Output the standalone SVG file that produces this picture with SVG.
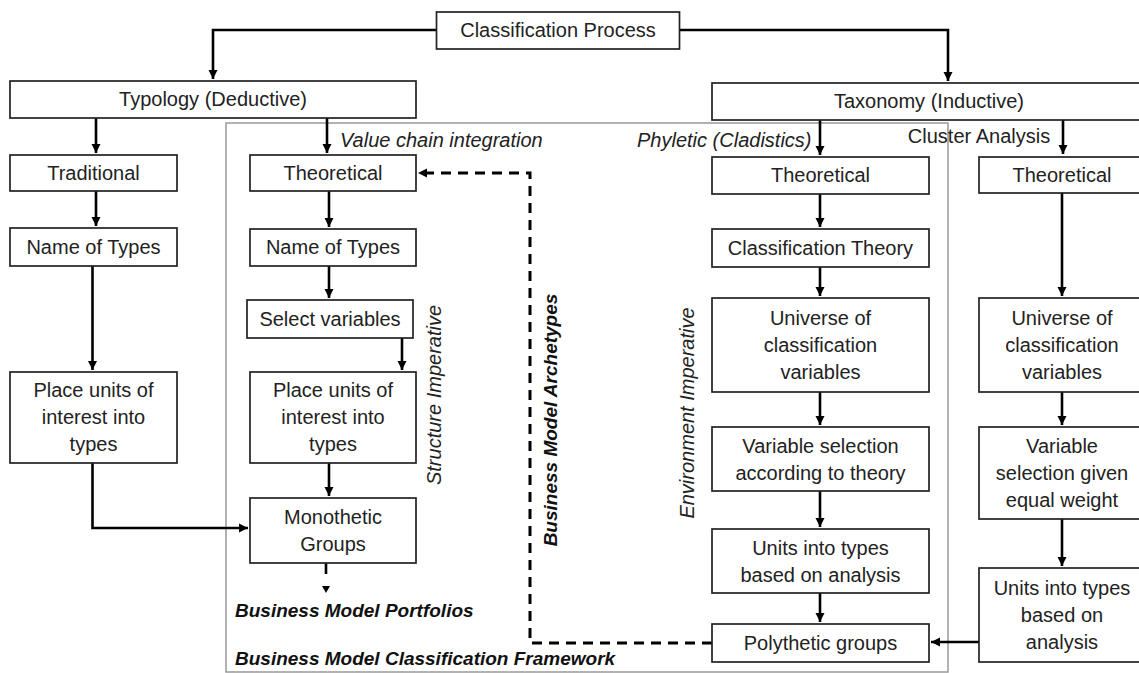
<svg xmlns="http://www.w3.org/2000/svg" width="1139" height="673" viewBox="0 0 1139 673">
<defs>
<marker id="ah" markerUnits="userSpaceOnUse" markerWidth="10" markerHeight="10" refX="9" refY="5" orient="auto">
<path d="M0,0.5 L9,5 L0,9.5 z" fill="#000"/>
</marker>
<style>
.b{fill:#fff;stroke:#222;stroke-width:1.7}
.t{font-family:"Liberation Sans",Arial,sans-serif;font-size:20px;fill:#222;text-anchor:middle}
.i{font-family:"Liberation Sans",Arial,sans-serif;font-size:20px;fill:#222;font-style:italic}
.bi{font-family:"Liberation Sans",Arial,sans-serif;font-size:19px;fill:#111;font-style:italic;font-weight:bold}
.c{fill:none;stroke:#000;stroke-width:2.6}
.d{fill:none;stroke:#000;stroke-width:3;stroke-dasharray:10 7}
</style>
</defs>
<rect x="0" y="0" width="1139" height="673" fill="#fff"/>

<g id="frame">
<rect x="226" y="123" width="722" height="549" fill="none" stroke="#999" stroke-width="1.5"/>
<text class="i" x="340" y="147">Value chain integration</text>
<text class="i" x="637" y="147">Phyletic (Cladistics)</text>
<text class="t" x="979" y="143" style="font-style:normal">Cluster Analysis</text>
<text class="i" transform="translate(441,395) rotate(-90)" text-anchor="middle">Structure Imperative</text>
<text class="bi" transform="translate(557,420) rotate(-90)" text-anchor="middle">Business Model Archetypes</text>
<text class="i" transform="translate(694,413) rotate(-90)" text-anchor="middle">Environment Imperative</text>
<text class="bi" x="235" y="617">Business Model Portfolios</text>
<text class="bi" x="235" y="665">Business Model Classification Framework</text>
</g>

<g id="connectors">
<polyline class="c" points="436,30 213,30 213,79" marker-end="url(#ah)"/>
<polyline class="c" points="680,30 948,30 948,81" marker-end="url(#ah)"/>
<line class="c" x1="96" y1="118" x2="96" y2="153" marker-end="url(#ah)"/>
<line class="c" x1="96" y1="191" x2="96" y2="226" marker-end="url(#ah)"/>
<line class="c" x1="92.5" y1="266" x2="92.5" y2="370" marker-end="url(#ah)"/>
<polyline class="c" points="92.5,463 92.5,528 248,528" marker-end="url(#ah)"/>
<line class="c" x1="327" y1="118" x2="327" y2="153" marker-end="url(#ah)"/>
<line class="c" x1="329" y1="191" x2="329" y2="227" marker-end="url(#ah)"/>
<line class="c" x1="329" y1="266" x2="329" y2="298" marker-end="url(#ah)"/>
<line class="c" x1="402" y1="338" x2="402" y2="370" marker-end="url(#ah)"/>
<line class="c" x1="329" y1="463" x2="329" y2="496" marker-end="url(#ah)"/>
<line class="c" x1="326" y1="563" x2="326" y2="574"/>
<path d="M322,586 L330,586 L326,593 z" fill="#000"/>
<line class="c" x1="820" y1="120" x2="820" y2="155" marker-end="url(#ah)"/>
<line class="c" x1="820" y1="194" x2="820" y2="227" marker-end="url(#ah)"/>
<line class="c" x1="820" y1="267" x2="820" y2="296" marker-end="url(#ah)"/>
<line class="c" x1="820" y1="392" x2="820" y2="425" marker-end="url(#ah)"/>
<line class="c" x1="820" y1="491" x2="820" y2="527" marker-end="url(#ah)"/>
<line class="c" x1="820" y1="593" x2="820" y2="622" marker-end="url(#ah)"/>
<line class="c" x1="1063" y1="120" x2="1063" y2="154" marker-end="url(#ah)"/>
<line class="c" x1="1062" y1="193" x2="1062" y2="296" marker-end="url(#ah)"/>
<line class="c" x1="1062" y1="392" x2="1062" y2="425" marker-end="url(#ah)"/>
<line class="c" x1="1062" y1="519" x2="1062" y2="566" marker-end="url(#ah)"/>
<line class="c" x1="979" y1="642" x2="931" y2="642" marker-end="url(#ah)"/>
<polyline class="d" points="712,643 530,643 530,173 426,173"/>
<path d="M418,173 L427,168.5 L427,177.5 z" fill="#000"/>
</g>

<g id="n-classification-process"><rect class="b" x="436.5" y="12" width="243" height="37"/><text class="t" x="558" y="37">Classification Process</text></g>
<g id="n-typology"><rect class="b" x="10" y="81" width="406" height="37"/><text class="t" x="213" y="106">Typology (Deductive)</text></g>
<g id="n-taxonomy"><rect class="b" x="712" y="83" width="434" height="37"/><text class="t" x="929" y="108">Taxonomy (Inductive)</text></g>

<g id="n-traditional"><rect class="b" x="10" y="155" width="167" height="36"/><text class="t" x="93.5" y="180">Traditional</text></g>
<g id="n-name-left"><rect class="b" x="10" y="228" width="167" height="38"/><text class="t" x="93.5" y="254">Name of Types</text></g>
<g id="n-place-left"><rect class="b" x="10" y="372" width="167" height="91"/><text class="t" x="93.5" y="397">Place units of</text><text class="t" x="93.5" y="424">interest into</text><text class="t" x="93.5" y="451">types</text></g>

<g id="n-theoretical-mid"><rect class="b" x="250" y="155" width="166" height="36"/><text class="t" x="333" y="180">Theoretical</text></g>
<g id="n-name-mid"><rect class="b" x="250" y="229" width="166" height="37"/><text class="t" x="333" y="254">Name of Types</text></g>
<g id="n-select"><rect class="b" x="247" y="300" width="166" height="38"/><text class="t" x="330" y="326">Select variables</text></g>
<g id="n-place-mid"><rect class="b" x="250" y="372" width="166" height="91"/><text class="t" x="333" y="397">Place units of</text><text class="t" x="333" y="424">interest into</text><text class="t" x="333" y="451">types</text></g>
<g id="n-monothetic"><rect class="b" x="250" y="498" width="166" height="65"/><text class="t" x="333" y="524">Monothetic</text><text class="t" x="333" y="551">Groups</text></g>

<g id="n-theoretical-phy"><rect class="b" x="712" y="157" width="217" height="37"/><text class="t" x="820.5" y="182">Theoretical</text></g>
<g id="n-class-theory"><rect class="b" x="712" y="229" width="217" height="38"/><text class="t" x="820.5" y="255">Classification Theory</text></g>
<g id="n-universe-phy"><rect class="b" x="712" y="298" width="217" height="94"/><text class="t" x="820.5" y="325">Universe of</text><text class="t" x="820.5" y="352">classification</text><text class="t" x="820.5" y="379">variables</text></g>
<g id="n-varsel-phy"><rect class="b" x="712" y="427" width="217" height="64"/><text class="t" x="820.5" y="453">Variable selection</text><text class="t" x="820.5" y="480">according to theory</text></g>
<g id="n-units-phy"><rect class="b" x="712" y="529" width="217" height="64"/><text class="t" x="820.5" y="555">Units into types</text><text class="t" x="820.5" y="582">based on analysis</text></g>
<g id="n-polythetic"><rect class="b" x="712" y="624" width="217" height="38"/><text class="t" x="820.5" y="650">Polythetic groups</text></g>

<g id="n-theoretical-clu"><rect class="b" x="979" y="157" width="167" height="36"/><text class="t" x="1062" y="182">Theoretical</text></g>
<g id="n-universe-clu"><rect class="b" x="979" y="298" width="167" height="94"/><text class="t" x="1062" y="325">Universe of</text><text class="t" x="1062" y="352">classification</text><text class="t" x="1062" y="379">variables</text></g>
<g id="n-varsel-clu"><rect class="b" x="979" y="427" width="167" height="92"/><text class="t" x="1062" y="453">Variable</text><text class="t" x="1062" y="480">selection given</text><text class="t" x="1062" y="507">equal weight</text></g>
<g id="n-units-clu"><rect class="b" x="979" y="568" width="167" height="94"/><text class="t" x="1062" y="595">Units into types</text><text class="t" x="1062" y="622">based on</text><text class="t" x="1062" y="649">analysis</text></g>
</svg>
